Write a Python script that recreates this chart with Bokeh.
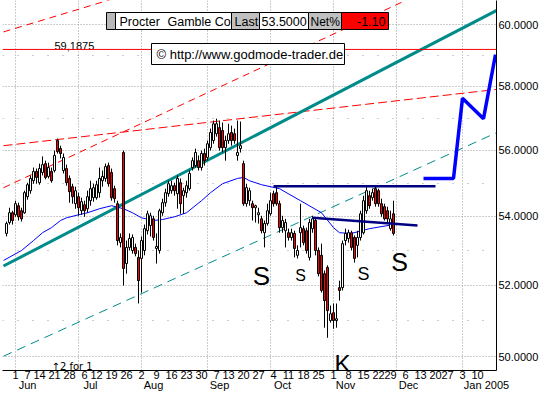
import numpy as np
import pandas as pd
from bokeh.plotting import figure
from bokeh.models import (Range1d, FixedTicker, LinearAxis, NumeralTickFormatter,
                          Label, BoxAnnotation, ColumnDataSource, Span)
from bokeh.core.properties import value
from bokeh.embed import file_html
from bokeh.resources import INLINE

# ---------------- data ----------------
HOLIDAYS = ["2004-05-31", "2004-06-11", "2004-07-05", "2004-09-06",
            "2004-11-25", "2004-12-24", "2005-01-17"]
ORIGIN = "2004-06-01"
FIRST_CANDLE = "2004-05-26"

open_ = [53.50, 53.82, 54.11, 54.05, 54.32, 54.17, 54.11, 54.59, 54.77, 55.07,
         55.35, 55.01, 55.32, 55.59, 55.20, 55.35, 55.38, 56.30, 56.05, 55.38,
         55.44, 55.14, 54.89, 54.38, 54.59, 54.17, 54.35, 54.23, 54.47, 54.56,
         54.56, 54.71, 55.07, 55.14, 55.53, 55.32, 54.83, 54.38, 53.23, 55.93,
         52.62, 53.09, 53.00, 53.09, 52.80, 52.77, 53.00, 53.58, 53.73, 53.93,
         53.06, 53.00, 54.11, 54.41, 54.68, 54.77, 54.92, 54.68, 55.01, 54.62,
         54.71, 54.83, 55.47, 55.53, 55.68, 55.47, 55.90, 55.78, 56.08, 56.30,
         56.51, 56.70, 56.61, 56.08, 56.30, 56.55, 56.51, 55.84, 56.05, 55.59,
         54.38, 54.47, 54.38, 54.26, 54.05, 53.93, 53.52, 53.79, 54.08, 54.68,
         54.71, 54.38, 53.67, 53.58, 53.52, 53.38, 53.50, 52.86, 53.52, 53.64,
         53.58, 52.80, 53.64, 53.88, 53.00, 52.86, 52.33, 52.51, 51.00, 51.22,
         51.00, 51.93, 51.93, 53.29, 53.35, 53.52, 53.38, 53.15, 53.38, 53.52,
         54.17, 54.62, 54.56, 54.83, 54.77, 54.38, 54.29, 54.17, 53.64, 54.08]
high = [53.85, 54.26, 54.17, 54.47, 54.41, 54.26, 54.77, 55.01, 55.23, 55.47,
        55.44, 55.59, 55.81, 55.68, 55.62, 55.47, 55.99, 56.36, 56.14, 55.90,
        55.56, 55.23, 54.98, 54.89, 54.71, 54.56, 54.47, 54.77, 55.07, 54.98,
        55.07, 55.47, 55.38, 55.59, 55.62, 55.44, 54.92, 54.47, 53.50, 55.99,
        53.29, 53.50, 53.47, 53.20, 53.00, 53.41, 53.76, 54.17, 54.11, 54.02,
        53.50, 54.23, 54.53, 54.83, 55.07, 55.07, 55.01, 55.23, 55.14, 54.86,
        55.07, 55.38, 55.78, 56.05, 55.84, 55.99, 56.05, 56.30, 56.67, 56.92,
        56.98, 56.92, 56.86, 56.45, 56.82, 56.76, 56.67, 56.92, 56.89, 55.68,
        54.98, 54.86, 54.47, 54.35, 54.26, 54.02, 53.88, 54.38, 54.71, 54.77,
        54.92, 54.47, 54.02, 53.93, 53.64, 53.64, 53.58, 53.15, 54.38, 53.73,
        53.67, 53.93, 54.02, 53.96, 53.09, 53.20, 52.42, 52.57, 51.42, 51.48,
        51.48, 52.13, 53.29, 53.64, 53.61, 53.58, 53.44, 53.58, 54.17, 54.62,
        54.92, 54.77, 54.83, 54.92, 54.83, 54.53, 54.38, 54.29, 54.17, 54.47]
low = [53.41, 53.76, 53.76, 53.99, 53.88, 53.85, 54.08, 54.50, 54.68, 54.98,
       54.98, 54.95, 55.23, 55.11, 55.14, 55.01, 55.32, 55.90, 55.75, 55.29,
       54.92, 54.41, 54.38, 54.23, 54.02, 54.05, 53.99, 54.11, 54.32, 54.44,
       54.50, 54.56, 54.89, 55.04, 54.89, 54.47, 54.41, 53.15, 53.09, 51.99,
       52.33, 53.00, 52.91, 52.83, 51.48, 51.79, 52.86, 53.47, 53.41, 53.29,
       52.62, 52.91, 54.02, 54.29, 54.59, 54.68, 54.62, 54.23, 54.08, 54.08,
       54.56, 54.77, 55.38, 55.47, 55.38, 55.38, 55.53, 55.68, 55.99, 56.20,
       56.42, 55.99, 55.93, 55.68, 56.20, 56.14, 56.20, 55.68, 55.93, 54.32,
       54.29, 54.32, 53.88, 53.82, 53.79, 53.50, 53.09, 53.73, 54.02, 54.29,
       54.32, 53.52, 53.52, 53.09, 53.29, 53.29, 52.80, 52.77, 53.09, 53.15,
       52.91, 52.71, 53.52, 52.86, 52.25, 51.79, 50.80, 50.52, 50.94, 50.77,
       50.80, 51.56, 51.85, 53.15, 53.23, 53.00, 52.65, 52.80, 53.29, 53.47,
       54.08, 54.23, 54.47, 54.29, 54.29, 53.99, 53.88, 53.82, 53.58, 53.44]
close = [53.79, 54.11, 53.88, 54.38, 53.99, 53.93, 54.71, 54.95, 55.14, 55.35,
         55.17, 55.44, 55.56, 55.17, 55.47, 55.07, 55.84, 55.96, 55.90, 55.78,
         55.01, 54.74, 54.59, 54.77, 54.26, 54.44, 54.17, 54.59, 54.83, 54.86,
         54.95, 55.14, 55.20, 55.50, 54.98, 54.56, 54.53, 53.29, 53.38, 52.48,
         53.09, 53.35, 53.38, 52.91, 52.13, 53.29, 53.64, 54.08, 54.02, 53.38,
         53.12, 54.17, 54.41, 54.71, 54.98, 54.92, 54.77, 55.14, 54.38, 54.77,
         54.92, 55.29, 55.68, 55.93, 55.47, 55.90, 55.68, 56.20, 56.55, 56.82,
         56.82, 56.08, 56.08, 56.30, 56.51, 56.30, 56.30, 55.93, 56.14, 54.38,
         54.86, 54.77, 54.26, 54.32, 54.11, 53.58, 53.79, 54.17, 54.47, 54.38,
         54.38, 53.67, 53.88, 53.82, 53.38, 53.52, 53.06, 53.00, 53.67, 53.23,
         53.00, 53.82, 53.93, 53.00, 52.33, 51.85, 51.56, 51.28, 51.19, 51.00,
         51.05, 51.85, 53.20, 53.50, 53.52, 53.09, 52.77, 53.38, 54.08, 54.47,
         54.77, 54.32, 54.71, 54.38, 54.38, 54.08, 53.93, 53.93, 53.93, 53.50]

ma_dates = ["2004-05-25", "2004-06-03", "2004-06-09", "2004-06-15", "2004-06-18",
            "2004-06-23", "2004-06-25", "2004-07-01", "2004-07-07", "2004-07-13",
            "2004-07-19", "2004-07-23", "2004-07-28", "2004-08-02", "2004-08-06",
            "2004-08-11", "2004-08-17", "2004-08-23", "2004-08-30", "2004-09-02",
            "2004-09-09", "2004-09-16", "2004-09-20", "2004-09-22", "2004-09-28",
            "2004-10-06", "2004-10-15", "2004-10-26", "2004-11-01", "2004-11-03",
            "2004-11-09", "2004-11-17", "2004-11-30"]
ma_values = [52.71, 53.00, 53.29, 53.52, 53.67, 53.88, 53.96, 54.05, 54.11, 54.23,
             54.32, 54.23, 54.11, 53.96, 53.88, 53.91, 53.99, 54.11, 54.47, 54.71,
             54.98, 55.14, 55.17, 55.07, 54.95, 54.83, 54.47, 54.11, 53.67, 53.52,
             53.50, 53.64, 53.76]

# trend lines: (dates, prices)
red_steep_dates, red_steep_prices = ["2004-05-25", "2004-12-06"], [54.86, 60.80]
red_top_dates, red_top_prices = ["2004-05-25", "2004-07-19"], [59.76, 60.84]
red_flat_dates, red_flat_prices = ["2004-05-25", "2005-01-20"], [56.14, 57.91]
teal_main_dates, teal_main_prices = ["2004-05-25", "2005-01-20"], [52.55, 60.50]
teal_low_dates, teal_low_prices = ["2004-05-25", "2005-01-20"], [50.01, 56.57]
resistance = 59.1875
neck_top_dates, neck_top_prices = ["2004-10-04", "2004-12-20"], [54.90, 54.90]
neck_low_dates, neck_low_prices = ["2004-10-21", "2004-12-10"], [53.96, 53.73]
fc_dates = ["2004-12-14", "2004-12-29", "2005-01-03", "2005-01-12", "2005-01-19"]
fc_prices = [55.14, 55.14, 57.62, 56.98, 59.02]

pattern_text = ["S", "S", "K", "S", "S"]
pattern_dates = ["2004-09-28", "2004-10-15", "2004-11-04", "2004-11-15", "2004-12-02"]
pattern_prices = [52.25, 52.28, 49.81, 52.33, 52.68]
pattern_sizes = ["26px", "16px", "24px", "18px", "25px"]

week_dates = ["2004-06-01", "2004-06-07", "2004-06-14", "2004-06-21", "2004-06-28",
              "2004-07-06", "2004-07-12", "2004-07-19", "2004-07-26",
              "2004-08-02", "2004-08-09", "2004-08-16", "2004-08-23", "2004-08-30",
              "2004-09-07", "2004-09-13", "2004-09-20", "2004-09-27",
              "2004-10-04", "2004-10-11", "2004-10-18", "2004-10-25",
              "2004-11-01", "2004-11-08", "2004-11-15", "2004-11-22", "2004-11-29",
              "2004-12-06", "2004-12-13", "2004-12-20", "2004-12-27",
              "2005-01-03", "2005-01-10"]
month_dates = ["2004-06-01", "2004-07-01", "2004-08-02", "2004-09-01",
               "2004-10-01", "2004-11-01", "2004-12-01", "2005-01-03"]
month_labels = ["Jun", "Jul", "Aug", "Sep", "Oct", "Nov", "Dec", "Jan 2005"]
price_ticks = [50, 52, 54, 56, 58, 60]
price_minor = [51, 53, 55, 57, 59]

last_price = "53.5000"
ma_last = "53.75970"
net_pct = "-1.10"


# ---------------- helpers ----------------
def tx(dates):
    d = np.array(dates, dtype="datetime64[D]")
    return np.busday_count(np.datetime64(ORIGIN), d, holidays=HOLIDAYS).astype(int).tolist()


FONT = "Liberation Sans"

p = figure(width=546, height=393, x_range=Range1d(-13 / 3, 160 + 1 / 3),
           y_range=Range1d(49.62, 60.80), y_axis_type="log", y_axis_location="right",
           output_backend="svg", toolbar_location=None,
           min_border_left=2, min_border_right=50, min_border_top=0, min_border_bottom=0)
p.outline_line_color = None
p.background_fill_color = "white"
p.border_fill_color = "white"

# y axis
yax = p.yaxis[0]
yt = FixedTicker(ticks=price_ticks, minor_ticks=price_minor)
yax.ticker = yt
yax.formatter = NumeralTickFormatter(format="0.0000")
yax.major_tick_out = 0
yax.major_tick_in = 0
yax.minor_tick_out = 0
yax.minor_tick_in = 0
yax.major_label_standoff = 2
yax.major_label_text_font = FONT
yax.major_label_text_font_size = "11px"
yax.major_label_text_color = "black"
yax.axis_line_color = "black"

# x axis (first trading day of each week)
wx = tx(week_dates)
xax = p.xaxis[0]
xax.ticker = FixedTicker(ticks=wx)
xax.major_label_overrides = {x: str(int(d[-2:])) for x, d in zip(wx, week_dates)}
xax.major_tick_out = 0
xax.major_tick_in = 0
xax.minor_tick_out = 0
xax.minor_tick_in = 0
xax.major_label_standoff = 0
xax.major_label_text_font = FONT
xax.major_label_text_font_size = "11px"
xax.major_label_text_color = "black"
xax.axis_line_color = "black"

# month names, shifted so that the centred label starts at the month's first day
mx = tx(month_dates)
month_shift = [4 if len(l) <= 3 else 8 for l in month_labels]
mxs = [x + s for x, s in zip(mx, month_shift)]
max_ = LinearAxis(ticker=FixedTicker(ticks=mxs),
                  major_label_overrides={x: l for x, l in zip(mxs, month_labels)})
max_.axis_line_color = None
max_.major_tick_out = 0
max_.major_tick_in = 0
max_.minor_tick_out = 0
max_.minor_tick_in = 0
max_.major_label_standoff = -3
max_.major_label_text_font = FONT
max_.major_label_text_font_size = "11px"
max_.major_label_text_color = "black"
p.add_layout(max_, "below")

# grids
p.xgrid[0].ticker = FixedTicker(ticks=mx)
p.xgrid.grid_line_color = "#9a9a9a"
p.xgrid.grid_line_dash = "1 2"
p.ygrid[0].ticker = yt
p.ygrid.grid_line_color = "#9a9a9a"
p.ygrid.grid_line_dash = "1 2"
p.ygrid.minor_grid_line_color = "#9a9a9a"
p.ygrid.minor_grid_line_dash = "1 14"

# trend lines (below candles)
red = "#FF0000"
teal = "#008B8B"
p.line(tx(red_top_dates), red_top_prices, line_color=red, line_width=1, line_dash="7 5")
p.line(tx(red_steep_dates), red_steep_prices, line_color=red, line_width=1, line_dash="7 5")
p.line(tx(red_flat_dates), red_flat_prices, line_color=red, line_width=1, line_dash="9 4")
p.line(tx(teal_low_dates), teal_low_prices, line_color=teal, line_width=1, line_dash="9 6")
p.line(tx(teal_main_dates), teal_main_prices, line_color=teal, line_width=3)
p.add_layout(Span(location=resistance, dimension="width", line_color=red, line_width=1))
p.line(tx(ma_dates), ma_values, line_color="#0000FF", line_width=1)

# candles
dates = pd.bdate_range(start=FIRST_CANDLE, periods=len(close), freq="C", holidays=HOLIDAYS)
cx = tx(dates.values.astype("datetime64[D]"))
src = ColumnDataSource(dict(
    x=cx, o=open_, h=high, l=low, c=close,
    top=[max(a, b) for a, b in zip(open_, close)],
    bottom=[min(a, b) for a, b in zip(open_, close)],
    color=["white" if c >= o else red for o, c in zip(open_, close)]))
p.segment(x0="x", y0="l", x1="x", y1="h", source=src, line_color="black", line_width=1)
p.vbar(x="x", width=0.67, top="top", bottom="bottom", source=src,
       fill_color="color", line_color="black", line_width=1)

# neckline / forecast
p.line(tx(neck_top_dates), neck_top_prices, line_color="#000080", line_width=2.5)
p.line(tx(neck_low_dates), neck_low_prices, line_color="#000080", line_width=2.5)
p.line(tx(fc_dates), fc_prices, line_color="#0000FF", line_width=3.5)

# S-K-S labels
tsrc = ColumnDataSource(dict(x=tx(pattern_dates), y=pattern_prices, t=pattern_text, s=pattern_sizes))
p.text(x="x", y="y", text="t", text_font_size="s", source=tsrc, text_font=value(FONT),
       text_align="center", text_baseline="alphabetic", text_color="black")
p.text(x=tx(["2004-06-21"]), y=[resistance], text=["59,1875"], text_font=value(FONT),
       text_font_size="11px", text_align="left", text_baseline="alphabetic", y_offset=-3)
p.text(x=tx(["2004-06-18"]), y=[49.70], text=["\u21912 for 1"], text_font=value("DejaVu Sans"),
       text_font_size="10px", text_align="left", text_baseline="alphabetic", y_offset=-1)

# screen-space boxes
FL, FB = 2, 370


def sx(c):
    return c - FL


def sy(c):
    return FB - c


def box(l, r, t, b, fill, line="black"):
    p.add_layout(BoxAnnotation(left=sx(l), right=sx(r), top=sy(t), bottom=sy(b),
                               left_units="screen", right_units="screen",
                               top_units="screen", bottom_units="screen",
                               fill_color=fill, fill_alpha=1,
                               line_color=line, line_alpha=1, line_width=1))


def label(cx_, cy_, text, size="12px", color="black", align="left", baseline="middle"):
    p.add_layout(Label(x=sx(cx_), y=sy(cy_), x_units="screen", y_units="screen", text=text,
                       text_font=FONT, text_font_size=size, text_color=color,
                       text_align=align, text_baseline=baseline))


box(106, 115, 12, 29, "#B8B8B8")
box(115, 231, 12, 29, "white")
box(231, 259, 12, 29, "#C0C0C0")
box(259, 308, 12, 29, "white")
box(308, 341, 12, 29, "#C0C0C0")
box(341, 388, 12, 29, red)
label(119, 21, "Procter", size="12.5px")
label(167, 21, "Gamble Co", size="12.5px")
label(234, 21, "Last", size="12.5px")
label(261, 21, last_price, size="12.5px")
label(310, 21, "Net%", size="12px")
label(385, 21, net_pct, size="12.5px", align="right")

box(151, 344, 43, 64, "white")
label(156, 54, "\u00a9 http://www.godmode-trader.de", size="13px")

box(497, 548, 217, 226, "#0000FF", line=None)
label(498, 228, ma_last, size="11px", color="white", baseline="alphabetic")
box(497, 548, 225, 239, "black", line=None)
label(498, 232.5, last_price, size="11px", color="white")
label(522, 369, "LOG", size="11px", baseline="alphabetic")

open("out.html", "w").write(file_html(p, INLINE))
